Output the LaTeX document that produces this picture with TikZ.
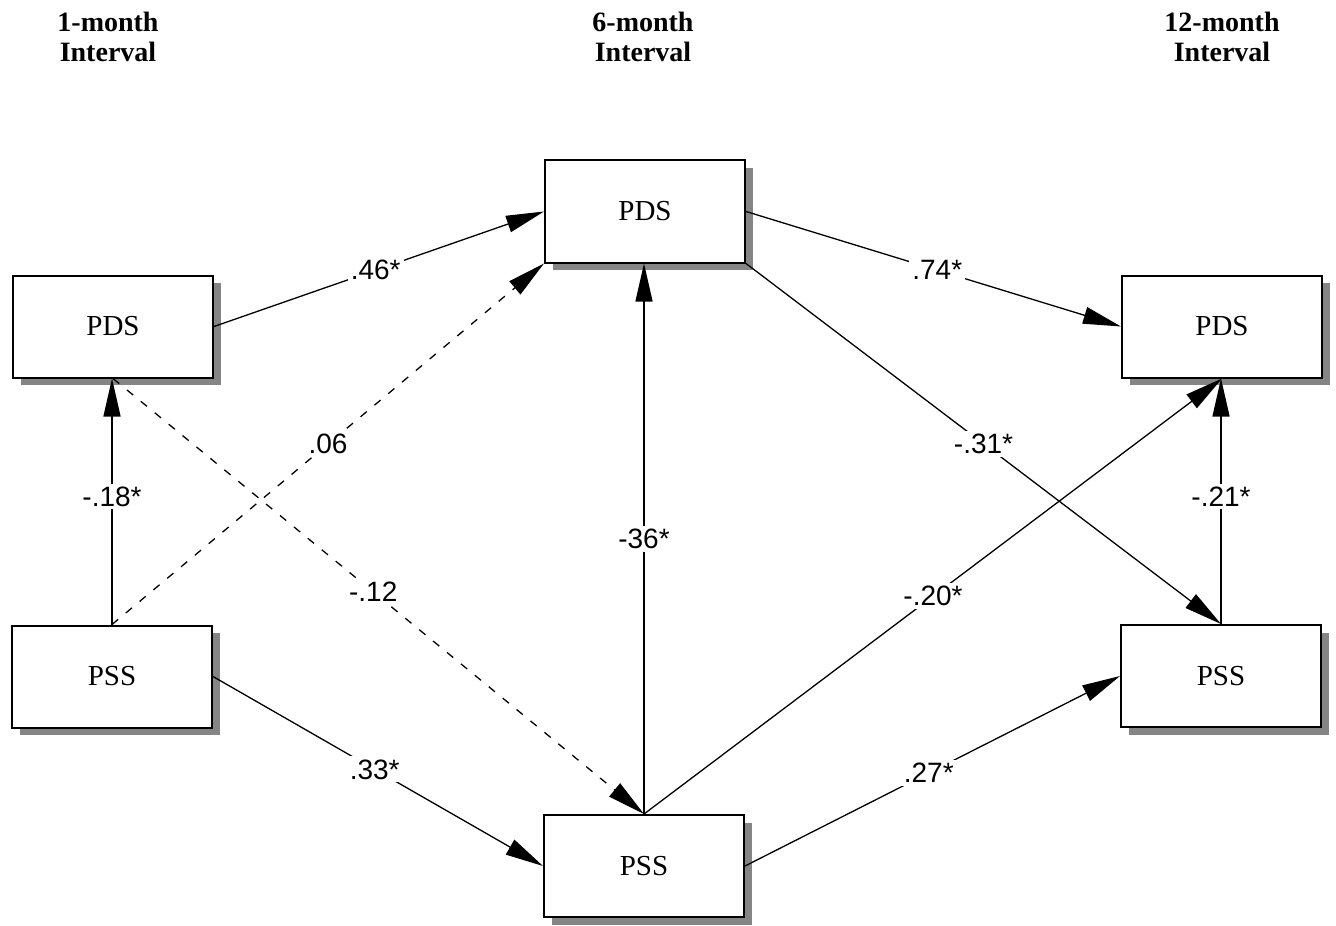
\documentclass[tikz,border=0pt]{standalone}
\usepackage{fontspec}
\setmainfont{Liberation Serif}
\newfontfamily\lblfont{Liberation Sans}
\usetikzlibrary{arrows.meta,shadows}
\begin{document}
\begin{tikzpicture}[x=0.5pt,y=-0.5pt,
  varbox/.style={draw, line width=1pt, fill=white, minimum width=100pt, minimum height=51pt,
    inner sep=0pt, font=\fontsize{14.5}{16}\selectfont,
    drop shadow={shadow xshift=3.8pt, shadow yshift=-3.8pt, fill=black!48, opacity=1}},
  hdr/.style={font=\fontsize{14}{15}\selectfont\bfseries, align=center},
  conn/.style={line width=0.65pt, -{Triangle[length=19pt,width=8.5pt]}},
  dconn/.style={conn, dash pattern=on 4pt off 5pt},
  coef/.style={fill=white, inner sep=1.5pt, font=\lblfont\fontsize{14}{15}\selectfont}]
\useasboundingbox (0,0) rectangle (1336,925);

\node[hdr] (h1) at (108,37) {1-month\\Interval};
\node[hdr] (h6) at (643,37) {6-month\\Interval};
\node[hdr] (h12) at (1222,37) {12-month\\Interval};

\node[varbox] (pds1) at (113,326.5) {PDS};
\node[varbox] (pss1) at (112,676.5) {PSS};
\node[varbox] (pds6) at (645,211.5) {PDS};
\node[varbox] (pss6) at (644,866) {PSS};
\node[varbox] (pds12) at (1222,326.5) {PDS};
\node[varbox] (pss12) at (1221,676) {PSS};

\draw[conn] (pds1.east) -- (pds6.west) node[coef,pos=0.49] {.46*};
\draw[dconn] (pss1.north) -- (pds6.south west) node[coef,pos=0.5] {.06};
\draw[conn] (pss1.north) -- (pss1.north |- pds1.south) node[coef,pos=0.52] {-.18*};
\draw[dconn] (pds1.south) -- (pss6.north) node[coef,pos=0.49] {-.12};
\draw[conn] (pss1.east) -- (pss6.west) node[coef,pos=0.49] {.33*};
\draw[conn] (pss6.north) -- (pss6.north |- pds6.south) node[coef,pos=0.5] {-36*};
\draw[conn] (pds6.east) -- (pds12.west) node[coef,pos=0.51] {.74*};
\draw[conn] (pds6.south east) -- (pss12.north) node[coef,pos=0.5] {-.31*};
\draw[conn] (pss6.north) -- (pds12.south) node[coef,pos=0.5] {-.20*};
\draw[conn] (pss6.east) -- (pss12.west) node[coef,pos=0.49] {.27*};
\draw[conn] (pss12.north) -- (pss12.north |- pds12.south) node[coef,pos=0.52] {-.21*};
\end{tikzpicture}
\end{document}
